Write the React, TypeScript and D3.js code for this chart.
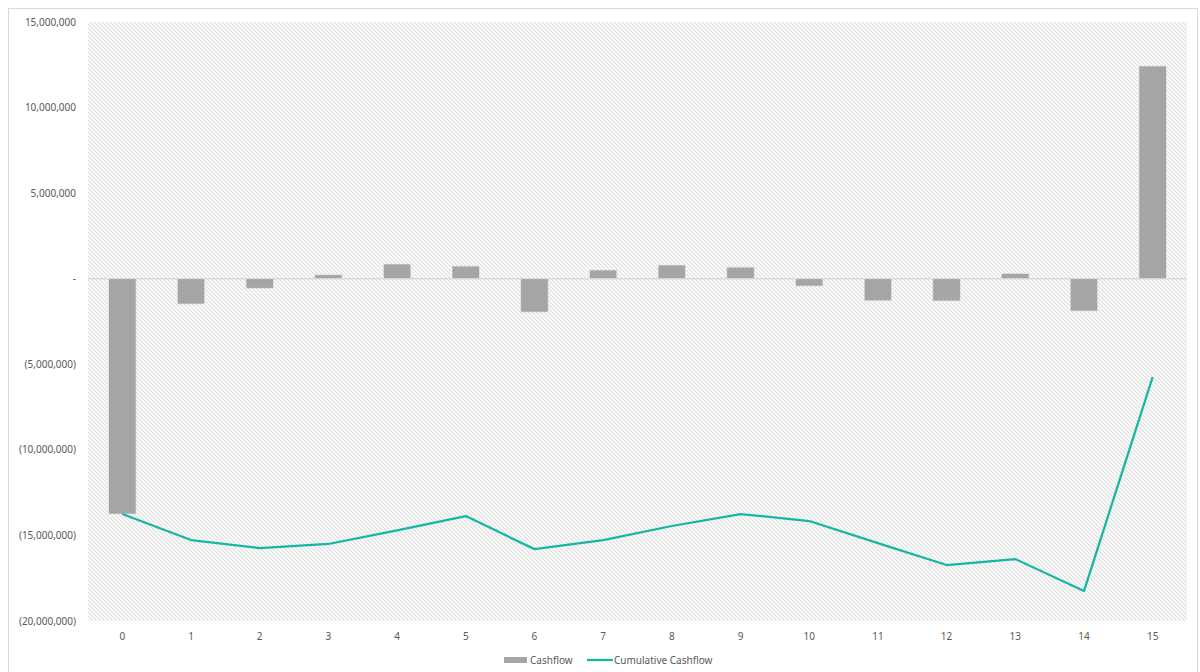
import React from "react";
import * as d3 from "d3";

const periods = ["0","1","2","3","4","5","6","7","8","9","10","11","12","13","14","15"];
const cashflow = [-13750000,-1480000,-560000,230000,860000,740000,-1950000,510000,800000,680000,-430000,-1290000,-1300000,310000,-1890000,12430000];
const cumulative = [-13750000,-15270000,-15740000,-15500000,-14700000,-13870000,-15800000,-15270000,-14450000,-13750000,-14160000,-15450000,-16730000,-16380000,-18250000,-5750000];
const yTicks = [15000000,10000000,5000000,0,-5000000,-10000000,-15000000,-20000000];
const seriesNames = ["Cashflow","Cumulative Cashflow"];

const W = 1200, H = 672;
const plot = { left: 88, right: 1187, top: 22, bottom: 621 };
const font = "'Noto Sans', 'Open Sans', sans-serif";

function fmt(v: number) {
  if (v === 0) return "-";
  const s = d3.format(",")(Math.abs(v));
  return v < 0 ? `(${s})` : s;
}

export default function App() {
  const x = d3.scaleBand<string>().domain(periods).range([plot.left, plot.right]).paddingInner(0.6).paddingOuter(0.3);
  const y = d3.scaleLinear().domain([-20000000, 15000000]).range([plot.bottom, plot.top]);
  const cx = (p: string) => (x(p) as number) + x.bandwidth() / 2;
  const line = d3.line<number>().x((_, i) => cx(periods[i])).y(d => y(d));
  return (
    <svg width={W} height={H} style={{ position: "absolute", left: 0, top: 0 }}>
      <defs>
        <pattern id="hatch" patternUnits="userSpaceOnUse" width={4} height={4}>
          <rect width={4} height={4} fill="#ffffff" />
          <path d="M-1,-1 L5,5 M-1,3 L1,5 M3,-1 L5,1" stroke="#e1e1e1" strokeWidth={1.3} />
        </pattern>
      </defs>
      <rect x={0} y={0} width={W} height={H} fill="#ffffff" />
      <rect x={8.5} y={8.5} width={1189} height={680} fill="#ffffff" stroke="#d9d9d9" strokeWidth={1} />
      <rect x={plot.left} y={plot.top} width={plot.right - plot.left} height={plot.bottom - plot.top} fill="url(#hatch)" />
      {yTicks.map(t => (
        <text key={t} x={76} y={y(t)} dy="0.35em" textAnchor="end" fontFamily={font} fontSize={10} fill="#595959">{fmt(t)}</text>
      ))}
      <line x1={plot.left} x2={plot.right} y1={y(0)} y2={y(0)} stroke="#d9d9d9" strokeWidth={1.5} />
      {cashflow.map((v, i) => (
        <rect key={i} x={x(periods[i])} y={y(Math.max(0, v))} width={x.bandwidth()} height={Math.abs(y(v) - y(0))}
          fill="#a5a5a5" stroke="#e6e6e6" strokeWidth={0.75} />
      ))}
      <path d={line(cumulative) || ""} fill="none" stroke="#17b5a6" strokeWidth={2.25} strokeLinejoin="round" />
      {periods.map(p => (
        <text key={p} x={cx(p)} y={636} dy="0.35em" textAnchor="middle" fontFamily={font} fontSize={10} fill="#595959">{p}</text>
      ))}
      <rect x={504} y={657} width={23} height={6} fill="#a5a5a5" />
      <text x={530} y={660} dy="0.35em" fontFamily={font} fontSize={10} fill="#595959">{seriesNames[0]}</text>
      <line x1={587} x2={613} y1={660} y2={660} stroke="#17b5a6" strokeWidth={2.25} />
      <text x={614} y={660} dy="0.35em" fontFamily={font} fontSize={10} fill="#595959">{seriesNames[1]}</text>
    </svg>
  );
}
